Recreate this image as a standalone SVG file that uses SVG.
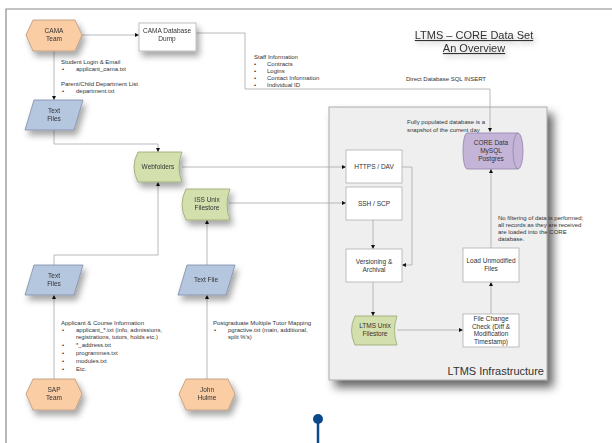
<svg xmlns="http://www.w3.org/2000/svg" width="612" height="443" viewBox="0 0 612 443">
<defs>
<filter id="sh" x="-30%" y="-30%" width="170%" height="180%"><feDropShadow dx="3" dy="5" stdDeviation="3" flood-color="#000" flood-opacity="0.35"/></filter>
<filter id="shb" x="-10%" y="-10%" width="130%" height="130%"><feDropShadow dx="6" dy="7" stdDeviation="5" flood-color="#000" flood-opacity="0.6"/></filter>
<filter id="sht" x="-10%" y="-30%" width="120%" height="180%"><feDropShadow dx="2" dy="3" stdDeviation="2.5" flood-color="#000" flood-opacity="0.25"/></filter>
<marker id="ah" viewBox="0 0 6 6" refX="6" refY="3" markerWidth="4" markerHeight="4" orient="auto" markerUnits="userSpaceOnUse"><path d="M0,0 L6,3 L0,6 z" fill="#111"/></marker>
<style>
text{font-family:"Liberation Sans",Arial,sans-serif;fill:#333}
.n{font-size:6.5px;text-anchor:middle}
.s{font-size:6px}
.hx{fill:#fbcda4;stroke:#b8967a;stroke-width:0.8}
.box{fill:#fff;stroke:#b0b0b0;stroke-width:0.8}
.par{fill:#b5c6df;stroke:#7c8ca6;stroke-width:0.8}
.grn{fill:#d4dfae;stroke:#94a56c;stroke-width:0.8}
.pur{fill:#c4b5d8;stroke:#9282aa;stroke-width:0.8}
.c{fill:none;stroke:#a8a8a8;stroke-width:0.8}
.a{marker-end:url(#ah)}
</style>
</defs>
<rect x="0" y="0" width="612" height="443" fill="#fff"/>
<path d="M6,443 V9 H612" fill="none" stroke="#8a8a8a" stroke-width="1.2"/>

<g id="title" filter="url(#sht)">
<text x="474" y="39" font-size="11" text-anchor="middle" text-decoration="underline">LTMS – CORE Data Set</text>
<text x="474" y="52" font-size="11" text-anchor="middle" text-decoration="underline">An Overview</text>
</g>

<g id="ltms-infra">
<rect x="329" y="107" width="218" height="273" fill="#efefef" stroke="#9a9a9a" stroke-width="0.8" filter="url(#shb)"/>
<text x="544" y="375" font-size="11" text-anchor="end">LTMS Infrastructure</text>
</g>

<g id="connectors">
<path class="c a" d="M82,35 H139"/>
<path class="c a" d="M54,51 V100"/>
<path class="c a" d="M54,130 V144 H158 V152"/>
<path class="c a" d="M196,33 H245 V89 H490 V132"/>
<path class="c a" d="M54,379 V295"/>
<path class="c a" d="M207,379 V295"/>
<path class="c a" d="M54,265 V255 H158 V182"/>
<path class="c a" d="M207,265 V220"/>
<path class="c a" d="M182,167 H346"/>
<path class="c a" d="M229,203 H346"/>
<path class="c a" d="M402,167 H412 V265 H402"/>
<path class="c a" d="M373,220 V249"/>
<path class="c a" d="M373,282 V316"/>
<path class="c a" d="M397,330 H463"/>
<path class="c a" d="M491,314 V282"/>
<path class="c a" d="M491,248 V169"/>
</g>

<g id="labels" class="s">
<text x="61" y="64">Student Login &amp; Email</text>
<text x="62" y="71">•</text><text x="76" y="71">applicant_cama.txt</text>
<text x="61" y="86">Parent/Child Department List</text>
<text x="62" y="93">•</text><text x="76" y="93">department.txt</text>
<text x="254" y="59">Staff Information</text>
<text x="254" y="66">•</text><text x="267" y="66">Contracts</text>
<text x="254" y="73">•</text><text x="267" y="73">Logins</text>
<text x="254" y="80">•</text><text x="267" y="80">Contact Information</text>
<text x="254" y="87">•</text><text x="267" y="87">Individual ID</text>
<text x="406" y="81">Direct Database SQL INSERT</text>
<text x="407" y="124">Fully populated database is a</text>
<text x="407" y="132">snapshot of the current day</text>
<text x="498" y="220">No filtering of data is performed;</text>
<text x="498" y="227">all records as they are received</text>
<text x="498" y="234">are loaded into the CORE</text>
<text x="498" y="241">database.</text>
<text x="61" y="325">Applicant &amp; Course Information</text>
<text x="62" y="332">•</text><text x="76" y="332">applicant_*.txt (info, admissions,</text>
<text x="76" y="339">registrations, tutors, holds etc.)</text>
<text x="62" y="347">•</text><text x="76" y="347">*_address.txt</text>
<text x="62" y="355">•</text><text x="76" y="355">programmes.txt</text>
<text x="62" y="363">•</text><text x="76" y="363">modules.txt</text>
<text x="62" y="371">•</text><text x="76" y="371">Etc.</text>
<text x="213" y="325">Postgraduate Multiple Tutor Mapping</text>
<text x="214" y="332">•</text><text x="228" y="332">pgractive.txt (main, additional,</text>
<text x="228" y="339">split %'s)</text>
</g>

<g id="cama-team" filter="url(#sh)">
<polygon class="hx" points="26,35 33,20 75,20 82,35 75,51 33,51"/>
<text class="n" x="54" y="33">CAMA</text><text class="n" x="54" y="41">Team</text>
</g>
<g id="cama-dump" filter="url(#sh)">
<rect class="box" x="139" y="23" width="57" height="28"/>
<text class="n" x="167" y="33">CAMA Database</text><text class="n" x="167" y="41">Dump</text>
</g>
<g id="text-files-cama" filter="url(#sh)">
<polygon class="par" points="34,100 83,100 74,130 25,130"/>
<text class="n" x="54" y="113">Text</text><text class="n" x="54" y="121">Files</text>
</g>
<g id="webfolders" filter="url(#sh)">
<path class="grn" d="M138,152 H182 Q176,167 182,182 H138 Q130,167 138,152 Z"/>
<text class="n" x="158" y="169">Webfolders</text>
</g>
<g id="iss-unix" filter="url(#sh)">
<path class="grn" d="M186,189 H230 Q224,204.5 230,220 H186 Q178,204.5 186,189 Z"/>
<text class="n" x="207" y="202">ISS Unix</text><text class="n" x="207" y="210">Filestore</text>
</g>
<g id="text-files-sap" filter="url(#sh)">
<polygon class="par" points="34,265 83,265 74,295 25,295"/>
<text class="n" x="54" y="278">Text</text><text class="n" x="54" y="286">Files</text>
</g>
<g id="text-file-john" filter="url(#sh)">
<polygon class="par" points="187,265 235,265 226,295 178,295"/>
<text class="n" x="206" y="282">Text File</text>
</g>
<g id="sap-team" filter="url(#sh)">
<polygon class="hx" points="26,394 33,379 75,379 82,394 75,410 33,410"/>
<text class="n" x="54" y="392">SAP</text><text class="n" x="54" y="400">Team</text>
</g>
<g id="john-hulme" filter="url(#sh)">
<polygon class="hx" points="179,394 186,379 228,379 235,394 228,410 186,410"/>
<text class="n" x="207" y="392">John</text><text class="n" x="207" y="400">Hulme</text>
</g>
<g id="https-dav">
<rect class="box" x="346" y="150" width="56" height="33"/>
<text class="n" x="374" y="169">HTTPS / DAV</text>
</g>
<g id="ssh-scp">
<rect class="box" x="346" y="187" width="56" height="33"/>
<text class="n" x="374" y="206">SSH / SCP</text>
</g>
<g id="versioning">
<rect class="box" x="346" y="249" width="56" height="33"/>
<text class="n" x="374" y="264">Versioning &amp;</text><text class="n" x="374" y="272">Archival</text>
</g>
<g id="ltms-unix">
<path class="grn" d="M355,316 H397 Q392,330.5 397,345 H355 Q348,330.5 355,316 Z"/>
<text class="n" x="375" y="328">LTMS Unix</text><text class="n" x="375" y="336">Filestore</text>
</g>
<g id="file-change">
<rect class="box" x="463" y="314" width="56" height="33"/>
<text class="n" x="491" y="321">File Change</text>
<text class="n" x="491" y="328.5">Check (Diff &amp;</text>
<text class="n" x="491" y="336">Modification</text>
<text class="n" x="491" y="343.5">Timestamp)</text>
</g>
<g id="load-unmodified">
<rect class="box" x="463" y="248" width="56" height="34"/>
<text class="n" x="491" y="263">Load Unmodified</text><text class="n" x="491" y="271">Files</text>
</g>
<g id="core-data">
<path class="pur" d="M467,133 H518 A5,18 0 0 1 518,169 H467 A4,18 0 0 1 467,133 Z"/>
<path d="M518,133 A5,18 0 0 0 518,169" fill="none" stroke="#9282aa" stroke-width="0.8"/>
<text class="n" x="491" y="145">CORE Data</text>
<text class="n" x="491" y="153">MySQL</text>
<text class="n" x="491" y="161">Postgres</text>
</g>

<g id="pin">
<line x1="318" y1="419" x2="318" y2="443" stroke="#0b4a8a" stroke-width="2.5"/>
<circle cx="318" cy="419" r="5" fill="#0b4a8a"/>
</g>
</svg>
